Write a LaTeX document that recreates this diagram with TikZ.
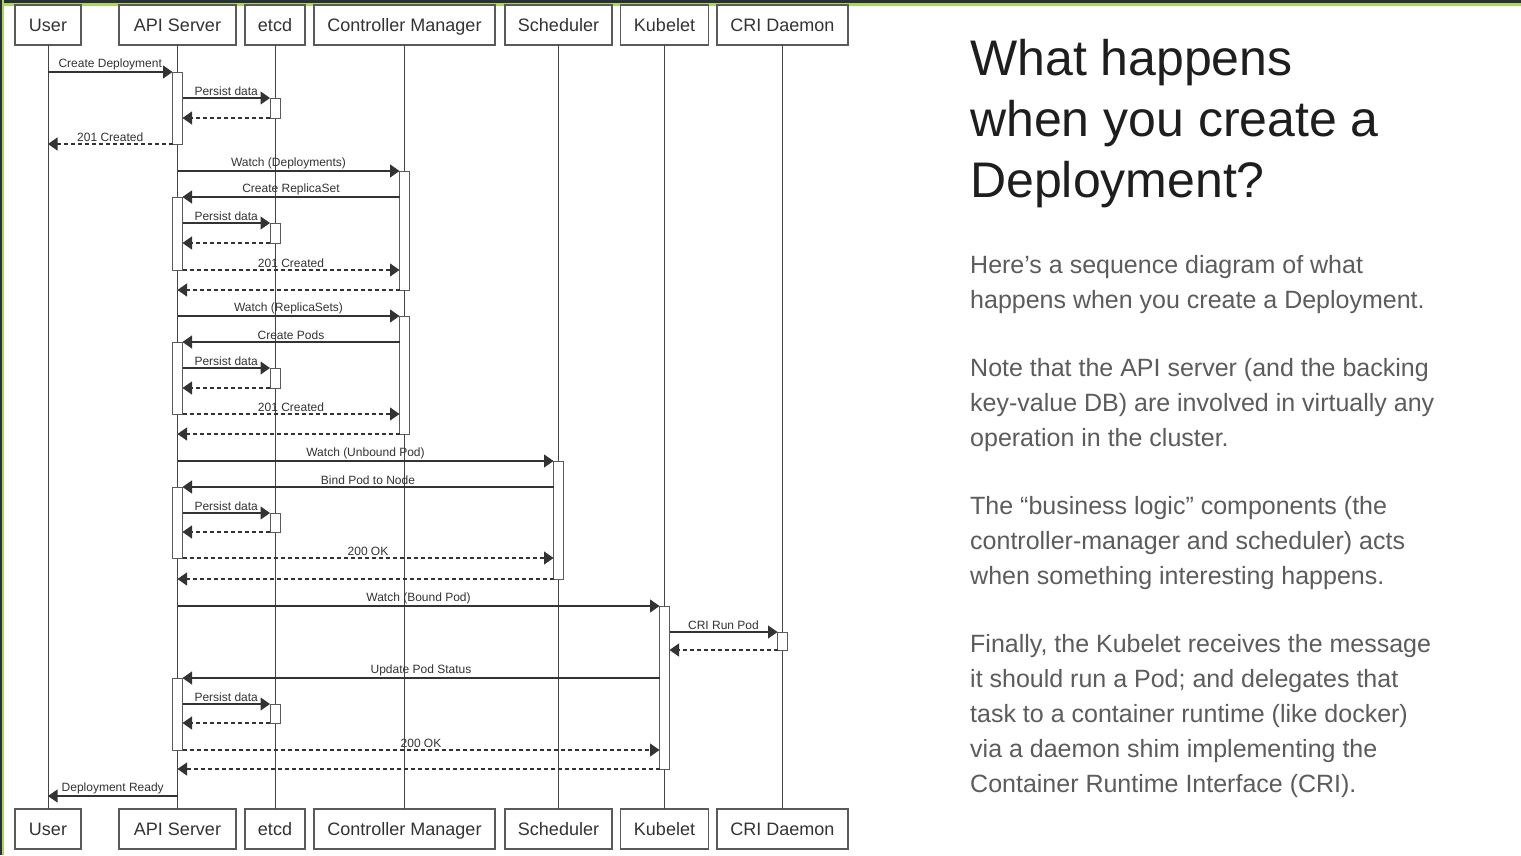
\documentclass[tikz,border=0pt]{standalone}
\usepackage{fontspec}
\setmainfont{Liberation Sans}
\usetikzlibrary{arrows.meta,calc}

\definecolor{ink}{HTML}{333333}
\definecolor{wire}{HTML}{444444}
\definecolor{boxline}{HTML}{5A5A5A}
\definecolor{framedark}{HTML}{2B2F36}
\definecolor{framegreen}{HTML}{A9D65E}
\definecolor{titleink}{HTML}{1E1E1E}
\definecolor{bodyink}{HTML}{5C5C5C}

% activation bar: name, lifeline x, top y, bottom y
\newcommand{\actbar}[4]{%
  \node[actbar, minimum height={(#4)-(#3)}] (#1) at (#2,{((#3)+(#4))/2}) {};}

\begin{document}
\begin{tikzpicture}[x=1pt,y=-1pt,
  actor/.style={draw=boxline, line width=1.1pt, fill=white, minimum height=40pt,
    inner sep=0pt, outer sep=0pt, text height=13pt, text depth=0pt,
    font=\fontsize{18}{20}\selectfont, text=ink},
  actbar/.style={draw=boxline, line width=1pt, fill=white, minimum width=10pt,
    inner sep=0pt, outer sep=0pt},
  lifeline/.style={draw=wire, line width=1pt},
  call/.style={draw=ink, line width=1.1pt, -{Triangle[length=9.5pt,width=13pt]}},
  reply/.style={call, dash pattern=on 4pt off 3pt},
  lbl/.style={font=\fontsize{12}{13}\selectfont, text=ink, inner sep=1.5pt, above, midway},
  heading/.style={anchor=base west, font=\fontsize{50}{61}\selectfont, text=titleink, inner sep=0pt},
  body/.style={anchor=base west, font=\fontsize{25}{35}\selectfont, text=bodyink, inner sep=0pt}
]
\useasboundingbox (0,0) rectangle (1521,855);
\fill[white] (0,0) rectangle (1521,855);

% window frame
\fill[framedark] (0,0) rectangle (1521,3);
\fill[framegreen] (0,3) rectangle (1521,5.5);
\fill[framedark] (0,0) rectangle (2,855);
\fill[framegreen] (2,0) rectangle (3.5,855);

% participants, top row
\node[actor, minimum width=66pt]  (hU) at (48,25)    {User};
\node[actor, minimum width=117pt] (hA) at (177.5,25) {API Server};
\node[actor, minimum width=60pt]  (hE) at (275,25)   {etcd};
\node[actor, minimum width=181pt] (hC) at (404.5,25) {Controller Manager};
\node[actor, minimum width=107pt] (hS) at (558.5,25) {Scheduler};
\node[actor, minimum width=88pt]  (hK) at (664.5,25) {Kubelet};
\node[actor, minimum width=131pt] (hR) at (782.5,25) {CRI Daemon};

% participants, bottom row
\node[actor, minimum width=66pt]  (fU) at (48,829)    {User};
\node[actor, minimum width=117pt] (fA) at (177.5,829) {API Server};
\node[actor, minimum width=60pt]  (fE) at (275,829)   {etcd};
\node[actor, minimum width=181pt] (fC) at (404.5,829) {Controller Manager};
\node[actor, minimum width=107pt] (fS) at (558.5,829) {Scheduler};
\node[actor, minimum width=88pt]  (fK) at (664.5,829) {Kubelet};
\node[actor, minimum width=131pt] (fR) at (782.5,829) {CRI Daemon};

% lifelines
\foreach \p in {U,A,E,C,S,K,R} \draw[lifeline] (h\p) -- (f\p);

% activation bars
\actbar{a1}{177.5}{72}{144}
\actbar{e1}{275}{98}{118}
\actbar{c1}{404.5}{171}{290}
\actbar{a2}{177.5}{197}{270}
\actbar{e2}{275}{223}{243}
\actbar{c2}{404.5}{316}{434}
\actbar{a3}{177.5}{342}{414}
\actbar{e3}{275}{368}{388}
\actbar{s1}{558.5}{461}{579}
\actbar{a4}{177.5}{487}{558}
\actbar{e4}{275}{513}{532}
\actbar{k1}{664.5}{606}{769}
\actbar{r1}{782.5}{632}{650}
\actbar{a5}{177.5}{678}{750}
\actbar{e5}{275}{704}{723}

% create deployment
\draw[call] (hU.south |- a1.north) -- node[lbl] {Create Deployment} (a1.north west);
\draw[call] (a1.east |- e1.north) -- node[lbl] {Persist data} (e1.north west);
\draw[reply] (e1.south west) -- (a1.east |- e1.south);
\draw[reply] (a1.south west) -- node[lbl] {201 Created} (hU.south |- a1.south);

% controller manager creates the ReplicaSet
\draw[call] (hA.south |- c1.north) -- node[lbl] {Watch (Deployments)} (c1.north west);
\draw[call] (c1.west |- a2.north) -- node[lbl] {Create ReplicaSet} (a2.north east);
\draw[call] (a2.east |- e2.north) -- node[lbl] {Persist data} (e2.north west);
\draw[reply] (e2.south west) -- (a2.east |- e2.south);
\draw[reply] (a2.south east) -- node[lbl] {201 Created} (c1.west |- a2.south);
\draw[reply] (c1.south west) -- (hA.south |- c1.south);

% controller manager creates the Pods
\draw[call] (hA.south |- c2.north) -- node[lbl] {Watch (ReplicaSets)} (c2.north west);
\draw[call] (c2.west |- a3.north) -- node[lbl] {Create Pods} (a3.north east);
\draw[call] (a3.east |- e3.north) -- node[lbl] {Persist data} (e3.north west);
\draw[reply] (e3.south west) -- (a3.east |- e3.south);
\draw[reply] (a3.south east) -- node[lbl] {201 Created} (c2.west |- a3.south);
\draw[reply] (c2.south west) -- (hA.south |- c2.south);

% scheduler binds the Pod
\draw[call] (hA.south |- s1.north) -- node[lbl] {Watch (Unbound Pod)} (s1.north west);
\draw[call] (s1.west |- a4.north) -- node[lbl] {Bind Pod to Node} (a4.north east);
\draw[call] (a4.east |- e4.north) -- node[lbl] {Persist data} (e4.north west);
\draw[reply] (e4.south west) -- (a4.east |- e4.south);
\draw[reply] (a4.south east) -- node[lbl] {200 OK} (s1.west |- a4.south);
\draw[reply] (s1.south west) -- (hA.south |- s1.south);

% kubelet runs the Pod
\draw[call] (hA.south |- k1.north) -- node[lbl] {Watch (Bound Pod)} (k1.north west);
\draw[call] (k1.east |- r1.north) -- node[lbl] {CRI Run Pod} (r1.north west);
\draw[reply] (r1.south west) -- (k1.east |- r1.south);
\draw[call] (k1.west |- a5.north) -- node[lbl] {Update Pod Status} (a5.north east);
\draw[call] (a5.east |- e5.north) -- node[lbl] {Persist data} (e5.north west);
\draw[reply] (e5.south west) -- (a5.east |- e5.south);
\draw[reply] (a5.south east) -- node[lbl] {200 OK} (k1.west |- a5.south);
\draw[reply] (k1.south west) -- (hA.south |- k1.south);

% final notification
\coordinate (ready) at (177.5,796);
\draw[call] (ready) -- node[lbl] {Deployment Ready} (hU.south |- ready);

% explanatory text
\node[heading] (t1) at (970,75)  {What happens};
\node[heading] (t2) at (970,136) {when you create a};
\node[heading] (t3) at (970,197) {Deployment?};

\node[body] at (970,273) {Here’s a sequence diagram of what};
\node[body] at (970,308) {happens when you create a Deployment.};

\node[body] at (970,376) {Note that the API server (and the backing};
\node[body] at (970,411) {key-value DB) are involved in virtually any};
\node[body] at (970,446) {operation in the cluster.};

\node[body] at (970,514) {The “business logic” components (the};
\node[body] at (970,549) {controller-manager and scheduler) acts};
\node[body] at (970,584) {when something interesting happens.};

\node[body] at (970,652) {Finally, the Kubelet receives the message};
\node[body] at (970,687) {it should run a Pod; and delegates that};
\node[body] at (970,722) {task to a container runtime (like docker)};
\node[body] at (970,757) {via a daemon shim implementing the};
\node[body] at (970,792) {Container Runtime Interface (CRI).};
\end{tikzpicture}
\end{document}
